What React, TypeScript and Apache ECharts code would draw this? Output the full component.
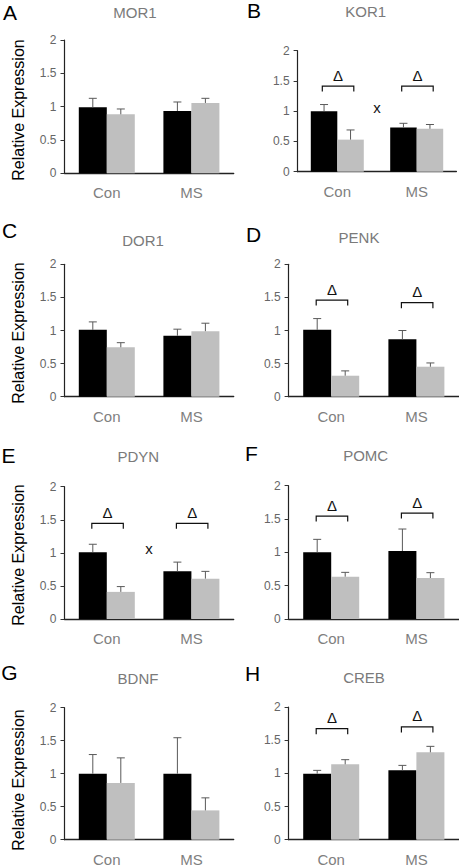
import React, { useEffect, useRef } from "react";
import * as echarts from "echarts";

const categories = ["Con", "MS"];
const genes = ["MOR1", "KOR1", "DOR1", "PENK", "PDYN", "POMC", "BDNF", "CREB"];
const panelLetters = ["A", "B", "C", "D", "E", "F", "G", "H"];
const yTicks = { min: 0, max: 2, interval: 0.5 };

// means [Con, MS]
const blackMeans = [
  [0.99, 0.935], [1.0, 0.73], [1.01, 0.92], [1.01, 0.867],
  [1.01, 0.72], [1.0, 1.02], [1.0, 1.0], [0.995, 1.045],
];
const blackErr = [
  [0.135, 0.135], [0.11, 0.07], [0.12, 0.1], [0.17, 0.133],
  [0.12, 0.14], [0.195, 0.33], [0.29, 0.545], [0.05, 0.075],
];
const grayMeans = [
  [0.885, 1.055], [0.53, 0.71], [0.746, 0.99], [0.317, 0.453],
  [0.41, 0.61], [0.635, 0.615], [0.86, 0.444], [1.136, 1.317],
];
const grayErr = [
  [0.08, 0.07], [0.16, 0.07], [0.07, 0.12], [0.073, 0.057],
  [0.08, 0.11], [0.065, 0.08], [0.38, 0.19], [0.07, 0.09],
];
// Δ bracket heights [Con, MS] (null = none)
const bracketLevels: (number[] | null)[] = [
  null, [1.416, 1.416], null, [1.46, 1.42],
  [1.447, 1.447], [1.545, 1.59], null, [1.673, 1.7],
];
// interaction "x" marker height (null = none)
const interactionLevels: (number | null)[] = [null, 1.064, null, null, 1.069, null, null, null];

const yAxisTitle = "Relative Expression";

const FONT = "'Liberation Sans', Arial, sans-serif";

const layouts = [
  { left: 64.5, top: 40, width: 169.2, height: 133.3, bw: 28, letter: [10, 12], title: [135, 12], ylab: 110 },
  { left: 297.6, top: 50.7, width: 158.8, height: 121, bw: 26.5, letter: [254, 10.5], title: [365.7, 11.7] },
  { left: 64.5, top: 264.3, width: 169.2, height: 132.4, bw: 28, letter: [9.5, 230], title: [143, 240], ylab: 333 },
  { left: 288.6, top: 264.3, width: 170.8, height: 132.4, bw: 28, letter: [253.5, 234.5], title: [359, 237.7] },
  { left: 64.5, top: 486.7, width: 169.2, height: 132.3, bw: 28, letter: [8.5, 455], title: [138.3, 456.7], ylab: 555 },
  { left: 288.6, top: 485.7, width: 170.8, height: 133.3, bw: 28, letter: [251.5, 453], title: [365.7, 455] },
  { left: 64.5, top: 707.7, width: 169.2, height: 132, bw: 28, letter: [9.5, 672], title: [138, 678.7], ylab: 780 },
  { left: 288.6, top: 707, width: 170.8, height: 132.7, bw: 28, letter: [252.5, 673.5], title: [364, 677.7] },
];

function buildOption() {
  const grid: any[] = [];
  const xAxis: any[] = [];
  const yAxis: any[] = [];
  const series: any[] = [];
  const graphic: any[] = [];

  layouts.forEach((L, i) => {
    grid.push({ left: L.left, top: L.top, width: L.width, height: L.height, containLabel: false });
    xAxis.push({
      type: "category",
      gridIndex: i,
      data: categories,
      axisLine: { lineStyle: { color: "#222", width: 1.3 } },
      axisTick: { show: false },
      axisLabel: { color: "#7f7f7f", fontSize: 15, fontFamily: FONT, margin: 12 },
    });
    yAxis.push({
      type: "value",
      gridIndex: i,
      min: yTicks.min,
      max: yTicks.max,
      interval: yTicks.interval,
      axisLine: { show: true, lineStyle: { color: "#222", width: 1.2 } },
      axisTick: { show: true, length: 4, lineStyle: { color: "#333" } },
      splitLine: { show: false },
      axisLabel: { color: "#666", fontSize: 12, fontFamily: FONT, margin: 8 },
    });
    series.push({
      type: "bar",
      xAxisIndex: i,
      yAxisIndex: i,
      data: blackMeans[i],
      barWidth: L.bw,
      barGap: "0%",
      itemStyle: { color: "#000" },
      silent: true,
    });
    series.push({
      type: "bar",
      xAxisIndex: i,
      yAxisIndex: i,
      data: grayMeans[i],
      barWidth: L.bw,
      barGap: "0%",
      itemStyle: { color: "#bfbfbf" },
      silent: true,
    });
    const mkErr = (means: number[], errs: number[], side: number) => ({
      type: "custom",
      xAxisIndex: i,
      yAxisIndex: i,
      z: 5,
      silent: true,
      data: means.map((m, k) => [k, m + errs[k], m]),
      renderItem: (_p: any, api: any) => {
        const top = api.coord([api.value(0), api.value(1)]);
        const base = api.coord([api.value(0), api.value(2)]);
        const x = top[0] + (side * L.bw) / 2;
        return {
          type: "group",
          children: [
            { type: "line", shape: { x1: x, y1: base[1], x2: x, y2: top[1] }, style: { stroke: "#595959", lineWidth: 1 } },
            { type: "line", shape: { x1: x - 4, y1: top[1], x2: x + 4, y2: top[1] }, style: { stroke: "#595959", lineWidth: 1 } },
          ],
        };
      },
    });
    series.push(mkErr(blackMeans[i], blackErr[i], -1));
    series.push(mkErr(grayMeans[i], grayErr[i], 1));

    const br = bracketLevels[i];
    if (br) {
      series.push({
        type: "custom",
        xAxisIndex: i,
        yAxisIndex: i,
        z: 6,
        silent: true,
        data: br.map((lv, k) => [k, lv]),
        renderItem: (_p: any, api: any) => {
          const c = api.coord([api.value(0), api.value(1)]);
          const x1 = c[0] - 15;
          const x2 = c[0] + 16.5;
          const y = c[1];
          return {
            type: "group",
            children: [
              {
                type: "polyline",
                shape: { points: [[x1, y + 5.5], [x1, y], [x2, y], [x2, y + 5.5]] },
                style: { stroke: "#111", lineWidth: 1.2, fill: "none" },
              },
              {
                type: "text",
                x: (x1 + x2) / 2,
                y: y - 11,
                style: { text: "Δ", fill: "#111", fontSize: 15, fontFamily: FONT, align: "center", verticalAlign: "middle" },
              },
            ],
          };
        },
      });
    }
    const il = interactionLevels[i];
    if (il !== null) {
      series.push({
        type: "custom",
        xAxisIndex: i,
        yAxisIndex: i,
        z: 6,
        silent: true,
        data: [[0, il]],
        renderItem: (_p: any, api: any) => {
          const c0 = api.coord([0, api.value(1)]);
          const c1 = api.coord([1, api.value(1)]);
          return {
            type: "text",
            x: (c0[0] + c1[0]) / 2,
            y: c0[1],
            style: { text: "x", fill: "#111", fontSize: 15, fontFamily: FONT, align: "center", verticalAlign: "middle" },
          };
        },
      });
    }

    graphic.push({
      type: "text",
      x: L.letter[0],
      y: L.letter[1],
      style: { text: panelLetters[i], fill: "#000", fontSize: 21, fontFamily: FONT, align: "center", verticalAlign: "middle" },
    });
    graphic.push({
      type: "text",
      x: L.title[0],
      y: L.title[1],
      style: { text: genes[i], fill: "#7a7a7a", fontSize: 15, fontFamily: FONT, align: "center", verticalAlign: "middle" },
    });
    if ((L as any).ylab) {
      graphic.push({
        type: "text",
        x: 18,
        y: (L as any).ylab,
        rotation: Math.PI / 2,
        style: { text: yAxisTitle, fill: "#000", fontSize: 16, fontFamily: FONT, align: "center", verticalAlign: "middle" },
      });
    }
  });

  return { animation: false, backgroundColor: "#fff", grid, xAxis, yAxis, series, graphic };
}

export default function App() {
  const ref = useRef<HTMLDivElement>(null);
  useEffect(() => {
    if (!ref.current) return;
    const chart = echarts.init(ref.current, undefined, { renderer: "svg" });
    chart.setOption(buildOption() as any);
    return () => chart.dispose();
  }, []);
  return (
    <div
      ref={ref}
      style={{ position: "fixed", left: 0, top: 0, width: 459, height: 867, background: "#fff" }}
    />
  );
}
